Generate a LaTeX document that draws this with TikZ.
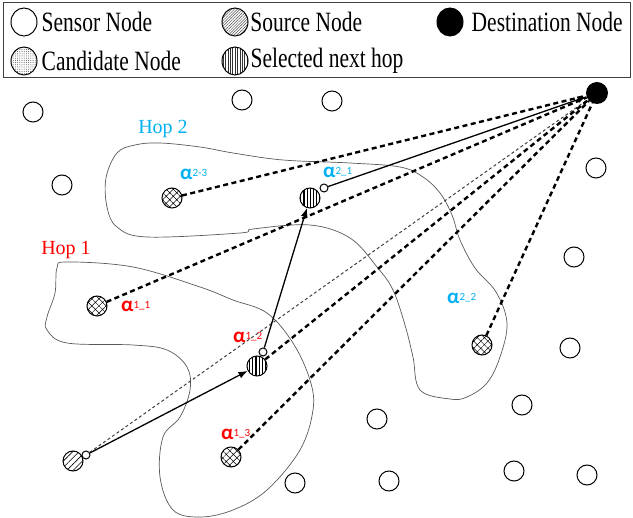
\documentclass[tikz,border=0pt]{standalone}
\usepackage{fontspec}
\setmainfont{Liberation Serif}
\newfontfamily\alphafont{Carlito}
\usetikzlibrary{positioning,patterns.meta,arrows.meta,shapes.geometric}
\definecolor{hopblue}{RGB}{0,176,240}
\definecolor{hopred}{RGB}{255,0,0}
\newcommand{\alab}[1]{{\alphafont\fontsize{21}{21}\selectfont\bfseries α}\raisebox{3pt}{\alphafont\fontsize{11}{11}\selectfont #1}}
\newcommand{\tallt}[1]{\scalebox{1}[1.3]{#1}}
\tikzstyle{sensor} = [circle, draw=black, line width=1pt, fill=white, minimum size=20pt, inner sep=0pt]
\tikzstyle{source} = [sensor, pattern={Lines[angle=45,distance=4.5pt,line width=0.6pt]}]
\tikzstyle{candidate} = [sensor, pattern={Hatch[angle=45,distance=5pt,line width=0.5pt]}]
\tikzstyle{selected} = [sensor, pattern={Lines[angle=90,distance=3.2pt,line width=1.3pt]}]
\tikzstyle{dest} = [circle, fill=black, minimum size=22pt, inner sep=0pt]
\tikzstyle{port} = [circle, draw=black, line width=1pt, fill=white, minimum size=8pt, inner sep=0pt]
\tikzstyle{legendmark} = [sensor, ellipse, minimum width=26pt, minimum height=28pt, pattern color=black!70]
\tikzstyle{hopzone} = [draw=black!65, line width=0.7pt]
\tikzstyle{cand} = [draw, line width=2.4pt, dash pattern=on 5pt off 3.5pt]
\tikzstyle{direct} = [draw=black!75, line width=1pt, dash pattern=on 3pt off 2.5pt]
\tikzstyle{hopedge} = [draw, line width=1.3pt, -{Latex[length=9pt,width=7pt]}]
\tikzstyle{textonly} = [draw=none, fill=none, font=\fontsize{20}{20}\selectfont, inner sep=0pt]
\tikzstyle{legendtext} = [textonly, font=\fontsize{21.5}{22}\selectfont]
\tikzstyle{alphatext} = [draw=none, fill=none, inner sep=0pt, anchor=west]

\begin{document}
\begin{tikzpicture}[x=1pt, y=-1pt]
\useasboundingbox (0,0) rectangle (633,518);

% legend =============================
\draw[line width=1pt, draw=black!75] (3,3) rectangle (630,78);
\node[legendmark] (lsen) at (24,22) {};
\node[legendtext, right=4pt of lsen] {\tallt{Sensor Node}};
\node[legendmark, pattern={Lines[angle=45,distance=2pt,line width=0.5pt]}] (lsrc) at (235,22) {};
\node[legendtext, right=2pt of lsrc] {\tallt{Source Node}};
\node[legendmark, fill=black] (ldst) at (450,22) {};
\node[legendtext, right=8pt of ldst] {\tallt{Destination Node}};
\node[legendmark, pattern={Dots[distance=2.2pt,radius=0.5pt]}] (lcan) at (24,61) {};
\node[legendtext, right=4pt of lcan] {\tallt{Candidate Node}};
\node[legendmark, pattern color=black!80, pattern={Lines[angle=90,distance=2.4pt,line width=0.7pt]}] (lsel) at (235,61) {};
\node[legendtext, right=2pt of lsel] {\tallt{Selected next hop}};

% hop zones
\draw[hopzone] plot[smooth cycle, tension=0.6] coordinates {(57,268) (67,262) (133,267) (200,287) (233,300) (267,313) (293,343) (310,380) (313,410) (300,450) (267,490) (233,510) (200,517) (173,510) (160,477) (163,437) (180,417) (190,390) (187,367) (167,350) (133,345) (67,343) (47,330) (47,317) (55,293)};
\draw[hopzone] plot[smooth cycle, tension=0.6] coordinates {(106,178) (117,153) (135,145) (160,143) (200,147) (233,153) (283,160) (350,163) (400,167) (423,177) (440,193) (452,215) (460,240) (475,268) (496,292) (507,323) (500,357) (487,383) (467,397) (450,399) (420,390) (413,357) (405,325) (393,290) (377,267) (350,238) (310,225) (253,229) (240,233) (147,237) (117,227) (107,207)};
\node[textonly, text=hopblue] (hop2) at (163,129) {Hop 2};
\node[textonly, text=hopred] (hop1) at (66,250) {Hop 1};

% sensor nodes
\foreach \px/\py in {33/112, 242/100, 332/101, 62/185, 596/168, 574/257, 570/348, 522/405, 377/419, 295/483, 389/481, 514/471, 587/475}
  \node[sensor] at (\px,\py) {};

% operations =============================
\node[dest] (dst) at (597,93) {};
\node[source] (src) at (73,461) {};
\node[candidate] (c23) at (172,198) {};
\node[candidate] (c11) at (97,306) {};
\node[candidate] (c13) at (231,457) {};
\node[candidate] (c22) at (482,345) {};
\node[selected] (s12) at (257,366) {};
\node[selected] (s21) at (310,198) {};
\node[port] (srcp) at (86,455) {};
\node[port] (s12p) at (263,352) {};
\node[port] (s21p) at (324,188) {};

% labels
\node[alphatext, text=hopblue] (a23) at (180,174) {\alab{2-3}};
\node[alphatext, text=hopblue] (a21) at (323,172) {\alab{2\_1}};
\node[alphatext, text=hopblue] (a22) at (447,298) {\alab{2\_2}};
\node[alphatext, text=hopred] (a11) at (121,306) {\alab{1\_1}};
\node[alphatext, text=hopred] (a12) at (233,337) {\alab{1\_2}};
\node[alphatext, text=hopred] (a13) at (221,434) {\alab{1\_3}};

% edges
\path[direct] (srcp) -- (dst);
\path[cand] (c23) -- (dst);
\path[cand] (c11) -- (dst);
\path[cand] (c13) -- (dst);
\path[cand] (c22) -- (dst);
\path[cand] (s12) -- (dst);
\path[hopedge] (srcp) -- (s12);
\path[hopedge] (s12p) -- (s21);
\path[hopedge] (s21p) -- (dst);

\end{tikzpicture}
\end{document}
